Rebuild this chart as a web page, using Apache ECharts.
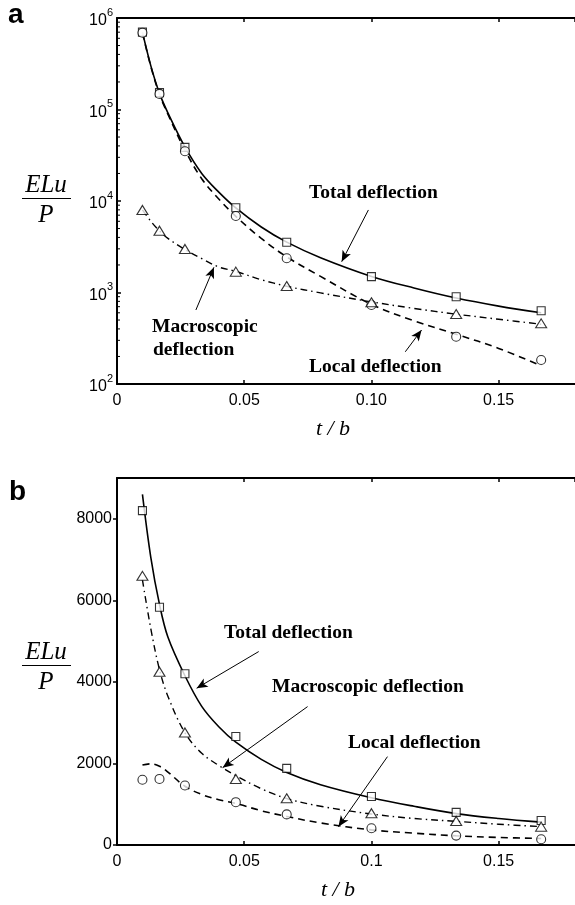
<!DOCTYPE html>
<html>
<head>
<meta charset="utf-8">
<script src="https://cdn.jsdelivr.net/npm/echarts@6/dist/echarts.min.js"></script>
<style>
  html, body { margin: 0; padding: 0; background: #fff; }
  #chart { width: 575px; height: 905px; }
</style>
</head>
<body>
<div id="chart"></div>
<script>
// Thickness ratio t/b of the tested plates
const tb = [0.01, 0.0167, 0.0267, 0.0467, 0.0667, 0.1, 0.1333, 0.1667];

// Panel a (logarithmic) – measured deflection ELu/P
const aTotal = [7.0e5, 1.53e5, 3.86e4, 8450, 3540, 1490, 900, 632];
const aLocal = [6.9e5, 1.48e5, 3.5e4, 6860, 2370, 730, 329, 183];
const aMacro = [7980, 4740, 2990, 1690, 1178, 782, 582, 460];

// Predicted curves, sampled along t/b
const curveX = [0.01, 0.0133, 0.0167, 0.02, 0.0267, 0.0333, 0.04, 0.0467, 0.0567, 0.0667, 0.08, 0.1, 0.1167, 0.1333, 0.15, 0.1667];
const aTotalCurve = [7.0e5, 3.0e5, 1.5e5, 9.2e4, 3.9e4, 2.0e4, 1.25e4, 8400, 5200, 3550, 2400, 1500, 1120, 870, 710, 600];
const aLocalCurve = [6.9e5, 2.95e5, 1.46e5, 8.9e4, 3.6e4, 1.75e4, 1.05e4, 6800, 3900, 2450, 1500, 740, 490, 350, 245, 158];
const aMacroCurve = [8000, 6000, 4700, 3900, 2950, 2350, 1900, 1700, 1380, 1170, 990, 790, 670, 580, 510, 450];

// Panel b (linear) – measured deflection ELu/P
const bTotal = [8200, 5830, 4200, 2660, 1880, 1190, 800, 600];
const bLocal = [1600, 1620, 1460, 1050, 750, 410, 230, 140];
const bMacro = [6600, 4250, 2760, 1620, 1145, 780, 590, 450];
const bTotalCurve = [8600, 7050, 5900, 5100, 4150, 3400, 2900, 2520, 2100, 1780, 1480, 1160, 950, 770, 650, 560];
const bLocalCurve = [1960, 1990, 1930, 1790, 1440, 1240, 1110, 1020, 840, 700, 540, 370, 290, 225, 185, 160];
const bMacroCurve = [6500, 5300, 4300, 3650, 2750, 2250, 1950, 1700, 1380, 1140, 950, 760, 650, 580, 510, 450];

// Tick labels
const xTickLabelsA = ['0', '0.05', '0.10', '0.15'];
const xTickLabelsB = ['0', '0.05', '0.1', '0.15'];
const yTickLabelsB = ['0', '2000', '4000', '6000', '8000'];
const logDecades = [2, 3, 4, 5, 6];
const minorMultipliers = [2, 3, 4, 5, 6, 7, 8, 9];

// Annotation arrows in data coordinates: [from, to]
const arrowsA = [
  [[0.0988, 7980], [0.0883, 2173]],
  [[0.0310, 644], [0.0381, 1884]],
  [[0.1133, 225], [0.1197, 389]]
];
const arrowsB = [
  [[0.0557, 4744], [0.0313, 3845]],
  [[0.0749, 3394], [0.0415, 1897]],
  [[0.1063, 2167], [0.0870, 449]]
];

const SANS = '"Liberation Sans", Arial, sans-serif';
const SERIF = '"Liberation Serif", "Times New Roman", serif';

const pairs = (xs, ys) => xs.map((x, i) => [x, ys[i]]);

const minorTicks = [];
logDecades.slice(0, -1).forEach(d => minorMultipliers.forEach(m => minorTicks.push(m * Math.pow(10, d))));

const left = 117, width = 468;
const grids = [
  { left: left, top: 18, width: width, height: 366 },
  { left: left, top: 478, width: width, height: 367 }
];

function xAxes(gridIndex, labels) {
  const common = {
    gridIndex: gridIndex, type: 'value', min: 0, max: 0.18, interval: 0.05,
    splitLine: { show: false },
    axisLine: { show: true, onZero: false, lineStyle: { color: '#000', width: 2 } },
    axisTick: { show: true, inside: true, length: 4, lineStyle: { color: '#000', width: 1.5 } }
  };
  return [
    Object.assign({}, common, {
      position: 'bottom',
      axisLabel: {
        margin: 9, fontFamily: SANS, fontSize: 16, color: '#000', showMaxLabel: false,
        formatter: v => { const i = Math.round(v / 0.05); return (Math.abs(v - i * 0.05) < 1e-9 && i < labels.length) ? labels[i] : ''; }
      }
    }),
    Object.assign({}, common, { position: 'top', axisLabel: { show: false } })
  ];
}

const lineStyleSolid = { color: '#000', width: 1.6, type: 'solid' };
const lineStyleDash = { color: '#000', width: 1.6, type: [7, 5] };
const lineStyleDashDot = { color: '#000', width: 1.4, type: [7, 4, 1.5, 4] };

function curve(name, xi, yi, data, ls) {
  return { name, type: 'line', xAxisIndex: xi, yAxisIndex: yi, data, smooth: 0.35, showSymbol: false,
    lineStyle: ls, silent: true, animation: false, z: 2 };
}
function marks(name, xi, yi, data, symbol, size) {
  return { name, type: 'scatter', xAxisIndex: xi, yAxisIndex: yi, data, symbol, symbolSize: size,
    itemStyle: { color: '#fff', borderColor: '#000', borderWidth: 1.1 }, silent: true, animation: false, z: 3 };
}
function arrows(xi, yi, list) {
  return { type: 'scatter', xAxisIndex: xi, yAxisIndex: yi, data: [], silent: true, animation: false,
    markLine: {
      silent: true, animation: false, symbol: ['none', 'arrow'], symbolSize: [7, 11],
      lineStyle: { color: '#000', width: 1, type: 'solid' }, label: { show: false },
      data: list.map(a => [{ coord: a[0] }, { coord: a[1] }])
    } };
}

const option = {
  backgroundColor: '#fff',
  animation: false,
  grid: grids,
  xAxis: [].concat(xAxes(0, xTickLabelsA), xAxes(1, xTickLabelsB)),
  yAxis: [
    {
      gridIndex: 0, type: 'log', logBase: 10, min: 100, max: 1e6,
      splitLine: { show: false },
      axisLine: { show: true, lineStyle: { color: '#000', width: 2 } },
      axisTick: { show: true, inside: true, length: 4, lineStyle: { color: '#000', width: 1.5 } },
      axisLabel: {
        margin: 4, color: '#000',
        formatter: v => '{b|10}{s|' + Math.round(Math.log10(v)) + '}',
        rich: {
          b: { fontFamily: SANS, fontSize: 16, color: '#000', verticalAlign: 'bottom', padding: [6, 0, 0, 0] },
          s: { fontFamily: SANS, fontSize: 11, color: '#000', verticalAlign: 'top' }
        }
      }
    },
    {
      gridIndex: 1, type: 'value', min: 0, max: 9000, interval: 2000,
      splitLine: { show: false },
      axisLine: { show: true, lineStyle: { color: '#000', width: 2 } },
      axisTick: { show: true, inside: false, length: 4, lineStyle: { color: '#000', width: 1.5 } },
      axisLabel: {
        margin: 5, fontFamily: SANS, fontSize: 16, color: '#000', showMaxLabel: false,
        formatter: v => { const i = Math.round(v / 2000); return i < yTickLabelsB.length ? yTickLabelsB[i] : ''; }
      }
    }
  ],
  series: [
    curve('Total deflection', 0, 0, pairs(curveX, aTotalCurve), lineStyleSolid),
    curve('Local deflection', 0, 0, pairs(curveX, aLocalCurve), lineStyleDash),
    curve('Macroscopic deflection', 0, 0, pairs(curveX, aMacroCurve), lineStyleDashDot),
    marks('Total', 0, 0, pairs(tb, aTotal), 'rect', 8),
    marks('Local', 0, 0, pairs(tb, aLocal), 'circle', 9),
    marks('Macroscopic', 0, 0, pairs(tb, aMacro), 'triangle', [11, 9]),
    arrows(0, 0, arrowsA),
    {
      type: 'custom', xAxisIndex: 0, yAxisIndex: 0, silent: true, animation: false, clip: false,
      data: minorTicks.map(v => [0, v]),
      renderItem: (params, api) => {
        const p = api.coord([0, api.value(1)]);
        return { type: 'line', shape: { x1: p[0], y1: p[1], x2: p[0] + 3, y2: p[1] },
          style: { stroke: '#000', lineWidth: 1 } };
      }
    },
    curve('Total deflection', 2, 1, pairs(curveX, bTotalCurve), lineStyleSolid),
    curve('Local deflection', 2, 1, pairs(curveX, bLocalCurve), lineStyleDash),
    curve('Macroscopic deflection', 2, 1, pairs(curveX, bMacroCurve), lineStyleDashDot),
    marks('Total', 2, 1, pairs(tb, bTotal), 'rect', 8),
    marks('Local', 2, 1, pairs(tb, bLocal), 'circle', 9),
    marks('Macroscopic', 2, 1, pairs(tb, bMacro), 'triangle', [11, 9]),
    arrows(2, 1, arrowsB)
  ],
  graphic: [
    // panel letters
    { type: 'text', left: 8, top: 1, style: { text: 'a', font: 'bold 28px ' + SANS, fill: '#000' } },
    { type: 'text', left: 9, top: 478, style: { text: 'b', font: 'bold 28px ' + SANS, fill: '#000' } },
    // y-axis titles (fraction ELu / P)
    { type: 'text', x: 46, y: 185, style: { text: 'ELu', font: 'italic 25px ' + SERIF, fill: '#000', textAlign: 'center', textVerticalAlign: 'middle', align: 'center', verticalAlign: 'middle' } },
    { type: 'line', shape: { x1: 22, y1: 198.5, x2: 71, y2: 198.5 }, style: { stroke: '#000', lineWidth: 1.2 } },
    { type: 'text', x: 46, y: 215, style: { text: 'P', font: 'italic 25px ' + SERIF, fill: '#000', textAlign: 'center', textVerticalAlign: 'middle', align: 'center', verticalAlign: 'middle' } },
    { type: 'text', x: 46, y: 652, style: { text: 'ELu', font: 'italic 25px ' + SERIF, fill: '#000', textAlign: 'center', textVerticalAlign: 'middle', align: 'center', verticalAlign: 'middle' } },
    { type: 'line', shape: { x1: 22, y1: 665.5, x2: 71, y2: 665.5 }, style: { stroke: '#000', lineWidth: 1.2 } },
    { type: 'text', x: 46, y: 682, style: { text: 'P', font: 'italic 25px ' + SERIF, fill: '#000', textAlign: 'center', textVerticalAlign: 'middle', align: 'center', verticalAlign: 'middle' } },
    // x-axis titles
    { type: 'text', x: 333, y: 429, style: { text: 't / b', font: 'italic 22px ' + SERIF, fill: '#000', textAlign: 'center', textVerticalAlign: 'middle', align: 'center', verticalAlign: 'middle' } },
    { type: 'text', x: 338, y: 890, style: { text: 't / b', font: 'italic 22px ' + SERIF, fill: '#000', textAlign: 'center', textVerticalAlign: 'middle', align: 'center', verticalAlign: 'middle' } },
    // curve annotations, panel a
    { type: 'text', x: 309, y: 193, style: { text: 'Total deflection', font: 'bold 19.5px ' + SERIF, fill: '#000', textVerticalAlign: 'middle', verticalAlign: 'middle' } },
    { type: 'text', x: 152, y: 327, style: { text: 'Macroscopic', font: 'bold 19.5px ' + SERIF, fill: '#000', textVerticalAlign: 'middle', verticalAlign: 'middle' } },
    { type: 'text', x: 153, y: 350, style: { text: 'deflection', font: 'bold 19.5px ' + SERIF, fill: '#000', textVerticalAlign: 'middle', verticalAlign: 'middle' } },
    { type: 'text', x: 309, y: 367, style: { text: 'Local deflection', font: 'bold 19.5px ' + SERIF, fill: '#000', textVerticalAlign: 'middle', verticalAlign: 'middle' } },
    // curve annotations, panel b
    { type: 'text', x: 224, y: 633, style: { text: 'Total deflection', font: 'bold 19.5px ' + SERIF, fill: '#000', textVerticalAlign: 'middle', verticalAlign: 'middle' } },
    { type: 'text', x: 272, y: 687, style: { text: 'Macroscopic deflection', font: 'bold 19.5px ' + SERIF, fill: '#000', textVerticalAlign: 'middle', verticalAlign: 'middle' } },
    { type: 'text', x: 348, y: 743, style: { text: 'Local deflection', font: 'bold 19.5px ' + SERIF, fill: '#000', textVerticalAlign: 'middle', verticalAlign: 'middle' } }
  ]
};

const chart = echarts.init(document.getElementById('chart'), null, { renderer: 'canvas' });
chart.setOption(option);
</script>
</body>
</html>
